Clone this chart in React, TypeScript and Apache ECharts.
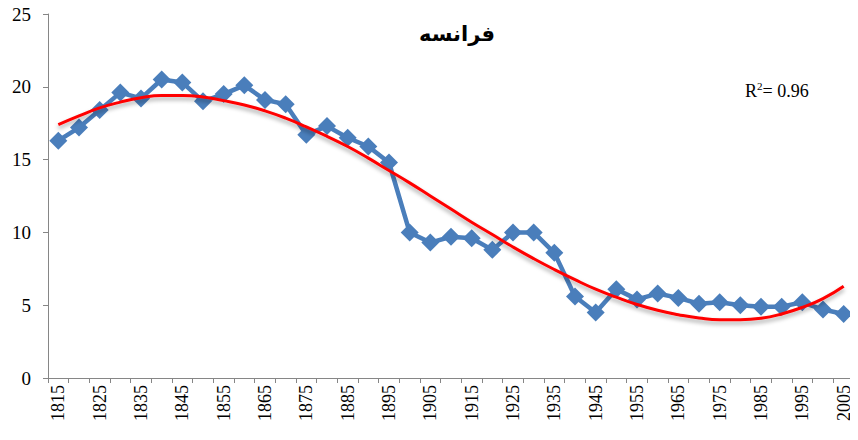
import React, { useEffect, useRef } from "react";
import * as echarts from "echarts";

const years: string[] = [
  "1815", "1820", "1825", "1830", "1835", "1840", "1845", "1850", "1855", "1860",
  "1865", "1870", "1875", "1880", "1885", "1890", "1895", "1900", "1905", "1910",
  "1915", "1920", "1925", "1930", "1935", "1940", "1945", "1950", "1955", "1960",
  "1965", "1970", "1975", "1980", "1985", "1990", "1995", "2000", "2005",
];

const franceValues: number[] = [
  16.3, 17.2, 18.4, 19.6, 19.2, 20.5, 20.3, 19.0, 19.5, 20.1,
  19.1, 18.8, 16.7, 17.3, 16.5, 15.9, 14.8, 10.0, 9.3, 9.7,
  9.6, 8.8, 10.0, 10.0, 8.6, 5.6, 4.5, 6.1, 5.4, 5.8,
  5.5, 5.1, 5.2, 5.0, 4.9, 4.9, 5.2, 4.7, 4.4,
];

const trendValues: number[] = [
  17.4, 18.0, 18.55, 18.95, 19.25, 19.4, 19.4, 19.3, 19.05, 18.75,
  18.35, 17.85, 17.25, 16.6, 15.9, 15.1, 14.25, 13.4, 12.5, 11.6,
  10.7, 9.85, 9.0, 8.2, 7.45, 6.75, 6.1, 5.55, 5.05, 4.65,
  4.35, 4.12, 4.0, 4.0, 4.1, 4.4, 4.85, 5.45, 6.3,
];

const yTicks = { min: 0, max: 25, interval: 5 };
const titleText = "فرانسه";
const r2Text = "0.96";

export default function App() {
  const ref = useRef<HTMLDivElement>(null);

  useEffect(() => {
    if (!ref.current) return;
    const chart = echarts.init(ref.current, null, { renderer: "svg" });
    const serif = "'Liberation Serif', 'Times New Roman', serif";
    chart.setOption({
      animation: false,
      backgroundColor: "#ffffff",
      title: {
        text: titleText,
        left: 452,
        top: 18,
        textAlign: "center",
        textStyle: {
          fontFamily: "'DejaVu Sans', 'Noto Sans', sans-serif",
          fontWeight: "bold",
          fontSize: 21,
          color: "#000000",
        },
      },
      grid: { left: 48, right: 4, top: 14, bottom: 62, containLabel: false },
      xAxis: {
        type: "category",
        data: years,
        boundaryGap: true,
        axisLine: { lineStyle: { color: "#868686", width: 1 } },
        axisTick: { show: true, interval: 0, length: 5, lineStyle: { color: "#868686" } },
        axisLabel: {
          interval: 1,
          rotate: 90,
          fontFamily: serif,
          fontSize: 18,
          color: "#000000",
          margin: 7,
        },
        splitLine: { show: false },
      },
      yAxis: {
        type: "value",
        min: yTicks.min,
        max: yTicks.max,
        interval: yTicks.interval,
        axisLine: { show: true, lineStyle: { color: "#868686", width: 1 } },
        axisTick: { show: true, length: 5, lineStyle: { color: "#868686" } },
        axisLabel: { fontFamily: serif, fontSize: 19, color: "#000000", margin: 17 },
        splitLine: { show: false },
      },
      series: [
        {
          type: "line",
          data: franceValues,
          symbol: "diamond",
          symbolSize: 18,
          showSymbol: true,
          showAllSymbol: true,
          lineStyle: { color: "#4A7EBB", width: 4.5 },
          itemStyle: { color: "#4A7EBB" },
          z: 2,
        },
        {
          type: "line",
          data: trendValues,
          smooth: true,
          symbol: "none",
          lineStyle: {
            color: "#FF0000",
            width: 3,
            shadowColor: "rgba(0,0,0,0.35)",
            shadowBlur: 4,
            shadowOffsetY: 3,
          },
          z: 3,
        },
      ],
      graphic: [
        {
          type: "text",
          left: 745,
          top: 80,
          style: {
            text: "{r|R}{s|2}{r|= " + r2Text + "}",
            rich: {
              r: { fontFamily: serif, fontSize: 18, color: "#000000", verticalAlign: "bottom" },
              s: { fontFamily: serif, fontSize: 11, color: "#000000", verticalAlign: "top", padding: [0, 0, 9, 0] },
            },
          },
        },
      ],
    });
    return () => chart.dispose();
  }, []);

  return <div ref={ref} style={{ width: 858, height: 440, marginLeft: -8, marginTop: -8 }} />;
}
